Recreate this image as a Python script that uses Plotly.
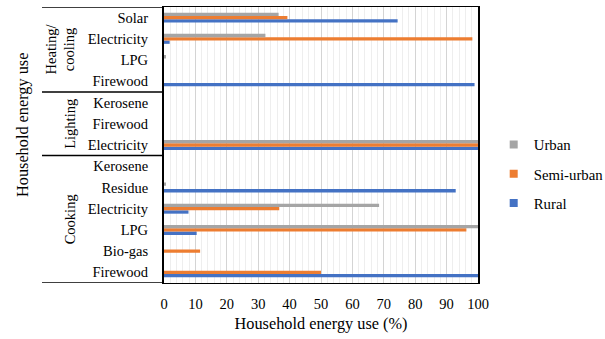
import plotly.graph_objects as go

# ---- data (bottom to top) ----
groups = ["Cooking"] * 6 + ["Lighting"] * 3 + ["Heating/cooling"] * 4
items = ["Firewood", "Bio-gas", "LPG", "Electricity", "Residue", "Kerosene",
         "Electricity", "Firewood", "Kerosene",
         "Firewood", "LPG", "Electricity", "Solar"]
rural = [100, 0, 10.4, 7.8, 92.9, 0, 100, 0, 0, 98.9, 0, 1.8, 74.4]
semi_urban = [50, 11.5, 96.3, 36.7, 0, 0, 100, 0, 0, 0, 0, 98.2, 39.3]
urban = [0, 0, 100, 68.5, 0.5, 0, 100, 0, 0, 0, 0.5, 32.3, 36.5]
x_ticks = [0, 10, 20, 30, 40, 50, 60, 70, 80, 90, 100]
group_labels = ["Cooking", "Lighting", "Heating/<br>cooling"]

keys = [f"{g}|{i}" for g, i in zip(groups, items)]

FONT = "Times New Roman"
colors = {"Rural": "#4472C4", "Semi-urban": "#ED7D31", "Urban": "#A5A5A5"}

fig = go.Figure()
for name, vals in [("Rural", rural), ("Semi-urban", semi_urban), ("Urban", urban)]:
    fig.add_trace(go.Bar(y=keys, x=vals, orientation="h", name=name,
                         marker=dict(color=colors[name], line=dict(width=0)),
                         showlegend=False))
# legend entries (small squares), top to bottom
for name in ["Urban", "Semi-urban", "Rural"]:
    fig.add_trace(go.Scatter(x=[None], y=[None], mode="markers", name=name,
                             legendgroup=name,
                             marker=dict(symbol="square", size=8, color=colors[name])))

fig.update_layout(
    width=605, height=339,
    margin=dict(l=164, r=127, t=7, b=56, autoexpand=False),
    paper_bgcolor="white", plot_bgcolor="white",
    barmode="group", bargap=0.53, bargroupgap=0,
    font=dict(family=FONT, size=14.5, color="black"),
    legend=dict(x=1.05, xanchor="left", y=0.56, yanchor="top",
                traceorder="grouped", tracegroupgap=7,
                font=dict(family=FONT, size=14.8, color="black"),
                itemwidth=30),
)
fig.update_xaxes(range=[0, 100], tickvals=x_ticks, ticks="", ticklabelstandoff=8,
                 automargin=False, tickfont=dict(family=FONT, size=14.5),
                 showgrid=True, gridcolor="#d4d4d4", gridwidth=1,
                 minor=dict(dtick=2, showgrid=True, gridcolor="#eeeeee", gridwidth=1),
                 showline=True, linecolor="black", linewidth=1, mirror=True,
                 zeroline=False,
                 title=dict(text="Household energy use (%)",
                            font=dict(family=FONT, size=16.3), standoff=6))
fig.update_yaxes(type="category", categoryorder="array", categoryarray=keys,
                 tickvals=keys, ticktext=items, ticks="", ticklabelstandoff=11,
                 automargin=False, tickfont=dict(family=FONT, size=14.5),
                 range=[-0.5, len(keys) - 0.5],
                 showgrid=False, showline=True, linecolor="black", linewidth=2,
                 mirror=True, zeroline=False)

# group separators across the label area
for yb in [-0.5, 5.5, 8.5, len(keys) - 0.5]:
    fig.add_shape(type="line", xref="paper", yref="y", x0=-122 / 314, x1=0,
                  y0=yb, y1=yb, line=dict(color="black", width=1.5))

# group labels
spans = [(0, 5), (6, 8), (9, 12)]
xshifts = [-94, -94, -104]
for lab, (a, b), xs in zip(group_labels, spans, xshifts):
    fig.add_annotation(text=lab, xref="paper", yref="y", x=0, y=(a + b) / 2,
                       xanchor="center", yanchor="middle", xshift=xs,
                       textangle=-90, showarrow=False,
                       font=dict(family=FONT, size=14.5, color="black"))

fig.add_annotation(text="Household energy use", xref="paper", yref="paper",
                   x=0, y=0.5, xshift=-142, yshift=20, textangle=-90, showarrow=False,
                   xanchor="center", yanchor="middle",
                   font=dict(family=FONT, size=16.3, color="black"))

fig.write_html("out.html", config={"displayModeBar": False},
               post_script="document.body.style.margin='0';document.body.style.padding='0';")
